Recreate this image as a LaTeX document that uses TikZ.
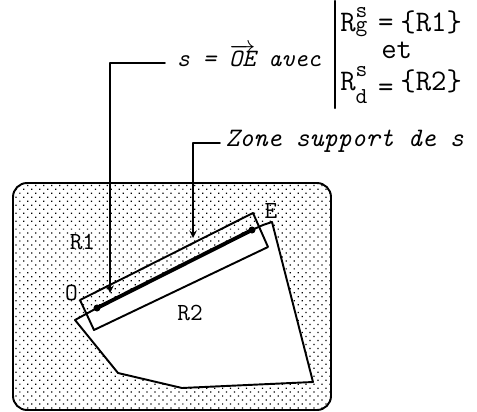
\documentclass[tikz,border=0pt]{standalone}
\usepackage{fontspec}
\setmainfont{Latin Modern Mono}
\usetikzlibrary{patterns.meta}

\begin{document}
\begin{tikzpicture}[x=0.02cm,y=-0.02cm,line cap=round,line join=round,>=stealth]
  \tikzset{
    thickline/.style={line width=1.1pt},
    segline/.style={line width=2.2pt},
    callout/.style={line width=0.9pt},
    lbl/.style={font=\fontsize{14}{16}\selectfont,inner sep=0pt},
    legend/.style={font=\fontsize{14.2}{16}\selectfont\itshape,anchor=base west,inner ysep=0pt},
    rtext/.style={font=\fontsize{17}{19}\selectfont,anchor=base west,inner sep=0pt},
  }
  \newcommand\idx[1]{{\fontsize{13}{15}\selectfont #1}}
  \useasboundingbox (0,0) rectangle (477,412);

  % ==================== fond pointille (R1) ====================
  \draw[thickline,rounded corners=8pt,
        pattern={Dots[distance=3.2pt,radius=0.5pt,angle=45]}]
    (13,183) rectangle (331,410);

  % ==================== region R2 ====================
  \coordinate (O) at (97,308);
  \coordinate (E) at (252,230);
  \draw[thickline,fill=white] (75,320) -- (O) -- (E) -- (263,225) -- (272,222)
    -- (313,382) -- (182,388) -- (118,373) -- cycle;

  % Zone support de s
  \draw[thickline] (80,300) -- (253,213) -- (268,247) -- (94,330) -- cycle;

  % segment s = OE
  \draw[segline] (O) -- (E);
  \fill (O) circle (2pt) (E) circle (2pt);

  \node[lbl] (lO) at (71.5,292.5) {O};
  \node[lbl] (lE) at (271,211) {E};
  \node[lbl] (lR1) at (82.5,241.5) {R1};
  \node[lbl] (lR2) at (190,312.5) {R2};

  % ==================== legendes ====================
  \node[legend,inner xsep=6.5pt] (sdef) at (165,67)
    {s = $\overrightarrow{\hbox{OE}}$ avec};
  \node[legend,font=\fontsize{15.2}{17}\selectfont\itshape,inner xsep=3pt] (zone) at (220,147) {Zone support de s};

  \coordinate (sTip) at (110,293);
  \coordinate (zTip) at (193,238);
  \draw[callout,->] ([yshift=2.3pt]sdef.base west) -| (sTip);
  \draw[callout,->] ([yshift=2.3pt]zone.base west) -| (zTip);

  % barre et definitions de Rg, Rd
  \draw[line width=1.4pt] (335,1) -- (335,108);
  \node[rtext] (rg) at (340,32)
    {R\rlap{\raisebox{8.3pt}{\idx{s}}}\idx{g}\hspace{6pt}=\hspace{4pt}\{R1\}};
  \node[rtext] (et) at (381,59) {et};
  \node[rtext] (rd) at (340,91)
    {R\rlap{\raisebox{8.3pt}{\idx{s}}}\raisebox{-7pt}{\idx{d}}\hspace{6pt}\raisebox{-3pt}{=}\hspace{4pt}\{R2\}};
\end{tikzpicture}
\end{document}
